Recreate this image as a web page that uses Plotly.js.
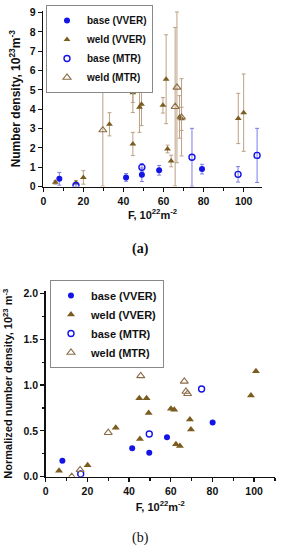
<!DOCTYPE html>
<html><head><meta charset="utf-8">
<script src="https://cdn.plot.ly/plotly-3.0.1.min.js"></script>
<style>html,body{margin:0;padding:0;background:#fff}#chart{width:284px;height:550px}</style>
</head><body><div id="chart"></div>
<script>
// ---- Panel (a): number density ----
const a_baseVVER_F = [8, 41.3, 49.2, 57.8, 79.2];
const a_baseVVER_N = [0.40, 0.47, 0.61, 0.84, 0.90];
const a_baseVVER_E = [0.33, 0.20, 0.35, 0.25, 0.25];

const a_weldVVER_F = [6, 16.3, 20, 33, 44.7, 44.7, 48, 49, 59.7, 61.3, 62, 63.8, 68, 69, 97.3, 100];
const a_weldVVER_N = [0.22, 0.20, 0.47, 3.22, 4.85, 2.20, 4.10, 4.25, 4.20, 5.55, 1.94, 1.32, 3.60, 3.50, 3.52, 3.82];
const a_weldVVER_E = [0.10, 0.10, 0.35, 0.60, 0.50, 0.60, 1.30, 1.10, 0.40, 2.30, 0.20, 0.30, 1.10, 0.60, 1.30, 2.00];

const a_baseMTR_F = [16.3, 49.2, 74.2, 97.2, 106.7];
const a_baseMTR_N = [0.05, 0.99, 1.51, 0.63, 1.61];
const a_baseMTR_E = [0.05, 0.20, 1.50, 0.40, 1.40];

const a_weldMTR_F = [29.7, 44.7, 65.8, 66.7, 69];
const a_weldMTR_N = [2.92, 6.23, 4.13, 5.13, 3.58];
const a_weldMTR_E = [2.90, 2.40, 4.10, 3.90, 2.00];

// ---- Panel (b): normalized number density ----
const b_baseVVER_F = [8, 41.5, 49.7, 58.2, 80.1];
const b_baseVVER_N = [0.175, 0.31, 0.26, 0.43, 0.59];

const b_weldVVER_F = [6.4, 20.1, 33.6, 44.9, 45.2, 48.4, 49.4, 60.1, 61.7, 62.5, 64.4, 69.2, 69.7, 98.5, 100.9];
const b_weldVVER_N = [0.065, 0.125, 0.535, 0.855, 0.41, 0.855, 0.695, 0.74, 0.73, 0.355, 0.335, 0.625, 0.515, 0.885, 1.15];

const b_baseMTR_F = [16.8, 49.7, 74.8];
const b_baseMTR_N = [0.03, 0.465, 0.957];

const b_weldMTR_F = [12.5, 16.5, 30, 41.2, 45.6, 66.5, 67.3, 68.1];
const b_weldMTR_N = [0.0, 0.075, 0.48, 1.395, 1.1, 1.04, 0.93, 0.905];

const names = ['base (VVER)', 'weld (VVER)', 'base (MTR)', 'weld (MTR)'];

const BLUE = '#1414e6', BROWN = '#7a5c20', OPENBR = '#8c6d45';
const EBLUE = '#7c7ce8', EBROWN = '#bba184';
const FAM = 'Arial, Liberation Sans, sans-serif';

function err(arr, col) { return {type: 'data', array: arr, visible: true, color: col, thickness: 1, width: 2}; }

const traces = [
  {x: a_baseVVER_F, y: a_baseVVER_N, error_y: err(a_baseVVER_E, EBLUE), name: names[0], legend: 'legend',
   mode: 'markers', type: 'scatter', marker: {symbol: 'circle', size: 6, color: BLUE}, xaxis: 'x', yaxis: 'y'},
  {x: a_weldVVER_F, y: a_weldVVER_N, error_y: err(a_weldVVER_E, EBROWN), name: names[1], legend: 'legend',
   mode: 'markers', type: 'scatter', marker: {symbol: 'triangle-up', size: 6, color: BROWN}, xaxis: 'x', yaxis: 'y'},
  {x: a_baseMTR_F, y: a_baseMTR_N, error_y: err(a_baseMTR_E, EBLUE), name: names[2], legend: 'legend',
   mode: 'markers', type: 'scatter', marker: {symbol: 'circle-open', size: 6, color: BLUE, line: {width: 1.4}}, xaxis: 'x', yaxis: 'y'},
  {x: a_weldMTR_F, y: a_weldMTR_N, error_y: err(a_weldMTR_E, EBROWN), name: names[3], legend: 'legend',
   mode: 'markers', type: 'scatter', marker: {symbol: 'triangle-up-open', size: 7, color: OPENBR, line: {width: 1.1}}, xaxis: 'x', yaxis: 'y'},

  {x: b_baseVVER_F, y: b_baseVVER_N, name: names[0], legend: 'legend2',
   mode: 'markers', type: 'scatter', marker: {symbol: 'circle', size: 6, color: BLUE}, xaxis: 'x2', yaxis: 'y2'},
  {x: b_weldVVER_F, y: b_weldVVER_N, name: names[1], legend: 'legend2',
   mode: 'markers', type: 'scatter', marker: {symbol: 'triangle-up', size: 7, color: BROWN}, xaxis: 'x2', yaxis: 'y2'},
  {x: b_baseMTR_F, y: b_baseMTR_N, name: names[2], legend: 'legend2',
   mode: 'markers', type: 'scatter', marker: {symbol: 'circle-open', size: 6, color: BLUE, line: {width: 1.4}}, xaxis: 'x2', yaxis: 'y2'},
  {x: b_weldMTR_F, y: b_weldMTR_N, name: names[3], legend: 'legend2',
   mode: 'markers', type: 'scatter', marker: {symbol: 'triangle-up-open', size: 7, color: OPENBR, line: {width: 1.1}}, xaxis: 'x2', yaxis: 'y2'}
];

const tickf = {family: FAM, size: 10.5, color: '#111', weight: 700};
const titf = {family: FAM, size: 11, color: '#111', weight: 700};
const ytitf = {family: FAM, size: 12, color: '#111', weight: 700};
const axBase = {showgrid: false, zeroline: false, showline: true, linecolor: '#111', linewidth: 1.5,
  ticks: 'outside', ticklen: 4, tickwidth: 1.2, tickcolor: '#111', tickfont: tickf,
  tickprefix: '<b>', ticksuffix: '</b>', automargin: false, fixedrange: true};

const layout = {
  width: 284, height: 550, margin: {l: 0, r: 0, t: 0, b: 0},
  paper_bgcolor: '#fff', plot_bgcolor: '#fff', showlegend: true,
  font: {family: FAM},
  xaxis: Object.assign({}, axBase, {domain: [0.1525, 0.9215], range: [0, 109], dtick: 20, tick0: 0,
    minor: {dtick: 10, ticks: 'outside', ticklen: 2.5, tickcolor: '#111'},
    anchor: 'y', title: {text: 'F, 10<sup>22</sup>m<sup>-2</sup>', font: titf, standoff: 5}}),
  yaxis: Object.assign({}, axBase, {domain: [0.6609, 0.98], range: [0, 9.08], dtick: 1, tick0: 0,
    anchor: 'x', title: {text: 'Number density, 10<sup>23</sup>m<sup>-3</sup>', font: ytitf, standoff: 6}}),
  xaxis2: Object.assign({}, axBase, {domain: [0.161, 0.968], range: [0, 110], dtick: 20, tick0: 0,
    minor: {dtick: 10, ticks: 'outside', ticklen: 2.5, tickcolor: '#111'},
    anchor: 'y2', title: {text: 'F, 10<sup>22</sup>m<sup>-2</sup>', font: titf, standoff: 7}}),
  yaxis2: Object.assign({}, axBase, {domain: [0.1333, 0.4715], range: [0, 2.03], dtick: 0.5, tick0: 0, tickformat: '.1f',
    minor: {dtick: 0.25, ticks: 'outside', ticklen: 2.5, tickcolor: '#111'},
    anchor: 'x2', title: {text: 'Normalized number density, 10<sup>23</sup> m<sup>-3</sup>', font: titf, standoff: 8}}),
  legend: {x: 0.162, y: 0.991, xanchor: 'left', yanchor: 'top', bgcolor: '#fff', bordercolor: '#888', borderwidth: 1,
    font: {family: FAM, size: 10, weight: 700, color: '#111'},
    tracegroupgap: 0, itemwidth: 30},
  legend2: {x: 0.176, y: 0.491, xanchor: 'left', yanchor: 'top', bgcolor: '#fff', bordercolor: '#888', borderwidth: 1,
    font: {family: FAM, size: 11, weight: 700, color: '#111'},
    tracegroupgap: 0, itemwidth: 30},
  annotations: [
    {text: '(a)', xref: 'paper', yref: 'paper', x: 140/284, y: 1 - 249/550, xanchor: 'center', yanchor: 'middle', showarrow: false,
     font: {family: 'Liberation Serif, DejaVu Serif, serif', size: 14, weight: 700, color: '#111'}},
    {text: '(b)', xref: 'paper', yref: 'paper', x: 140/284, y: 1 - 538/550, xanchor: 'center', yanchor: 'middle', showarrow: false,
     font: {family: 'Liberation Serif, DejaVu Serif, serif', size: 14, weight: 400, color: '#111'}}
  ]
};

Plotly.newPlot('chart', traces, layout, {staticPlot: true, displayModeBar: false});
</script></body></html>
